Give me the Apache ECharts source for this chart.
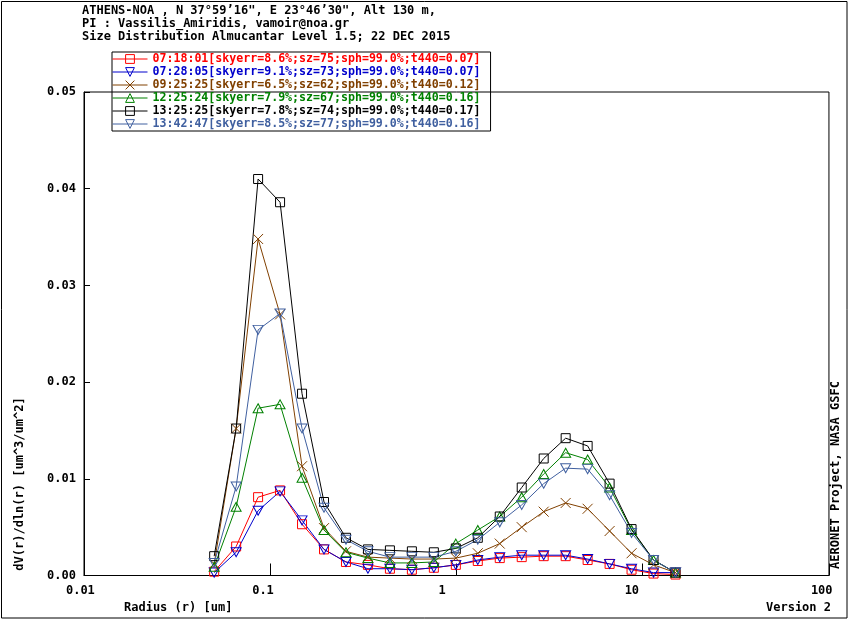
<!DOCTYPE html>
<html>
<head>
<meta charset="utf-8">
<script src="https://cdn.jsdelivr.net/npm/echarts@6/dist/echarts.min.js"></script>
<style>
  html, body { margin: 0; padding: 0; background: #fff; }
  #main { width: 850px; height: 620px; }
</style>
</head>
<body>
<div id="main"></div>
<script type="text/javascript">
// radius bins (um)
var radii = [0.05, 0.065604, 0.086077, 0.112939, 0.148184, 0.194429, 0.255105, 0.334716,
  0.439173, 0.576227, 0.756052, 0.991996, 1.301571, 1.707757, 2.240702, 2.939966,
  3.857452, 5.06126, 6.640745, 8.713145, 11.432287, 15.0];

var names = [
  '07:18:01[skyerr=8.6%;sz=75;sph=99.0%;t440=0.07]',
  '07:28:05[skyerr=9.1%;sz=73;sph=99.0%;t440=0.07]',
  '09:25:25[skyerr=6.5%;sz=62;sph=99.0%;t440=0.12]',
  '12:25:24[skyerr=7.9%;sz=67;sph=99.0%;t440=0.16]',
  '13:25:25[skyerr=7.8%;sz=74;sph=99.0%;t440=0.17]',
  '13:42:47[skyerr=8.5%;sz=77;sph=99.0%;t440=0.16]'
];

var v071801 = [0.0004, 0.0030, 0.0081, 0.0088, 0.0053, 0.0027, 0.0014, 0.0011, 0.0007, 0.0006, 0.0008,
  0.0011, 0.0015, 0.0018, 0.0019, 0.0020, 0.0020, 0.0016, 0.0012, 0.0006, 0.0002, 0.0001];
var v072805 = [0.0003, 0.0024, 0.0067, 0.0087, 0.0057, 0.0027, 0.0014, 0.0007, 0.0007, 0.0006, 0.0008,
  0.0011, 0.0016, 0.0019, 0.0021, 0.0021, 0.0021, 0.0017, 0.0012, 0.0007, 0.0003, 0.0003];
var v092525 = [0.0012, 0.0152, 0.0348, 0.0270, 0.0113, 0.0049, 0.0025, 0.0019, 0.0018, 0.0017, 0.0017,
  0.0018, 0.0023, 0.0033, 0.0050, 0.0066, 0.0075, 0.0069, 0.0046, 0.0023, 0.0011, 0.0003];
var v122524 = [0.0009, 0.0071, 0.0173, 0.0177, 0.0101, 0.0047, 0.0024, 0.0018, 0.0013, 0.0013, 0.0014,
  0.0033, 0.0047, 0.0061, 0.0081, 0.0105, 0.0127, 0.0120, 0.0091, 0.0047, 0.0016, 0.0003];
var v132525 = [0.0020, 0.0152, 0.0410, 0.0386, 0.0188, 0.0076, 0.0039, 0.0027, 0.0026, 0.0025, 0.0024,
  0.0028, 0.0039, 0.0061, 0.0091, 0.0121, 0.0142, 0.0134, 0.0095, 0.0048, 0.0016, 0.0003];
var v134247 = [0.0013, 0.0092, 0.0254, 0.0271, 0.0152, 0.0070, 0.0037, 0.0025, 0.0019, 0.0019, 0.0019,
  0.0025, 0.0037, 0.0055, 0.0073, 0.0095, 0.0111, 0.0110, 0.0083, 0.0044, 0.0016, 0.0003];

var xTicks = [0.01, 0.1, 1, 10, 100];
var yTicks = [0, 0.01, 0.02, 0.03, 0.04, 0.05];

var values = [v071801, v072805, v092525, v122524, v132525, v134247];
var colors = ['#ff0000', '#0000cc', '#804000', '#008000', '#000000', '#4060a0'];
var symbols = [
  'rect',
  'path://M0,0L10,0L5,9Z',
  'path://M0,0L10,10M10,0L0,10',
  'path://M5,0L10,9L0,9Z',
  'rect',
  'path://M0,0L10,0L5,9Z'
];
var sizes = [9, [10, 9], 10, [10, 9], 9, [10, 9]];

var mono = 'DejaVu Sans Mono';

// the original plot puts its x labels a little left of the ticks
var xLabelShift = { '0.01': ' ', '0.1': '  ', '1': '    ', '10': '   ', '100': '  ' };

var chart = echarts.init(document.getElementById('main'));

var series = names.map(function (n, i) {
  return {
    name: n,
    type: 'line',
    data: radii.map(function (r, j) { return [r, values[i][j]]; }),
    symbol: symbols[i],
    symbolSize: sizes[i],
    showAllSymbol: true,
    lineStyle: { color: colors[i], width: 1 },
    itemStyle: { color: 'transparent', borderColor: colors[i], borderWidth: 1 },
    animation: false
  };
});

var option = {
  animation: false,
  title: {
    text: 'ATHENS-NOA , N 37°59\u201916", E 23°46\u201930", Alt 130 m,\nPI : Vassilis_Amiridis, vamoir@noa.gr\nSize Distribution Almucantar Level 1.5; 22 DEC 2015',
    left: 82, top: 4, padding: 0,
    textStyle: { fontFamily: mono, fontWeight: 'bold', fontSize: 12, lineHeight: 13.3, color: '#000' }
  },
  legend: {
    orient: 'vertical',
    left: 112, top: 52,
    padding: [1, 10, 1, 0],
    itemGap: 1,
    itemWidth: 35, itemHeight: 11,
    borderColor: '#000', borderWidth: 1,
    selectedMode: false,
    data: names.map(function (n, i) {
      return {
        name: n,
        textStyle: { color: colors[i] },
        itemStyle: { color: 'transparent', borderColor: colors[i], borderWidth: 1 },
        lineStyle: { color: colors[i], width: 1 }
      };
    }),
    textStyle: { fontFamily: mono, fontWeight: 'bold', fontSize: 11.6, padding: [0, 0, 0, 0] }
  },
  grid: {
    left: 84, right: 21, top: 92, bottom: 44.5,
    show: true, borderColor: '#000', borderWidth: 1
  },
  xAxis: {
    type: 'log', logBase: 10, min: xTicks[0], max: xTicks[xTicks.length - 1],
    axisLine: { show: true, lineStyle: { color: '#000' } },
    axisTick: { show: true, inside: true, length: 12, lineStyle: { color: '#000' } },
    minorTick: { show: false },
    splitLine: { show: false },
    axisLabel: {
      margin: 9, color: '#000', fontFamily: mono, fontWeight: 'bold', fontSize: 12,
      formatter: function (v) {
        var s = String(v);
        return s + (xLabelShift[s] || '');
      }
    }
  },
  yAxis: {
    type: 'value', min: yTicks[0], max: yTicks[yTicks.length - 1], interval: 0.01,
    axisLine: { show: true, lineStyle: { color: '#000' } },
    axisTick: { show: true, inside: true, length: 6, lineStyle: { color: '#000' } },
    splitLine: { show: false },
    axisLabel: {
      margin: 8, color: '#000', fontFamily: mono, fontWeight: 'bold', fontSize: 12,
      formatter: function (v) { return v.toFixed(2); }
    }
  },
  graphic: [
    { type: 'rect', shape: { x: 1.5, y: 1.5, width: 845.5, height: 616.5 },
      style: { fill: 'none', stroke: '#000', lineWidth: 1 }, silent: true },
    { type: 'text', x: 20, y: 484, rotation: Math.PI / 2, silent: true,
      style: { text: 'dV(r)/dln(r) [um^3/um^2]', font: 'bold 12px "' + mono + '"',
        fill: '#000', align: 'center', verticalAlign: 'middle' } },
    { type: 'text', x: 836, y: 475, rotation: Math.PI / 2, silent: true,
      style: { text: 'AERONET Project, NASA GSFC', font: 'bold 12px "' + mono + '"',
        fill: '#000', align: 'center', verticalAlign: 'middle' } },
    { type: 'text', x: 124, y: 608, silent: true,
      style: { text: 'Radius (r) [um]', font: 'bold 12px "' + mono + '"',
        fill: '#000', align: 'left', verticalAlign: 'middle' } },
    { type: 'text', x: 831, y: 608, silent: true,
      style: { text: 'Version 2', font: 'bold 12px "' + mono + '"',
        fill: '#000', align: 'right', verticalAlign: 'middle' } }
  ],
  series: series
};

chart.setOption(option);
</script>
</body>
</html>
